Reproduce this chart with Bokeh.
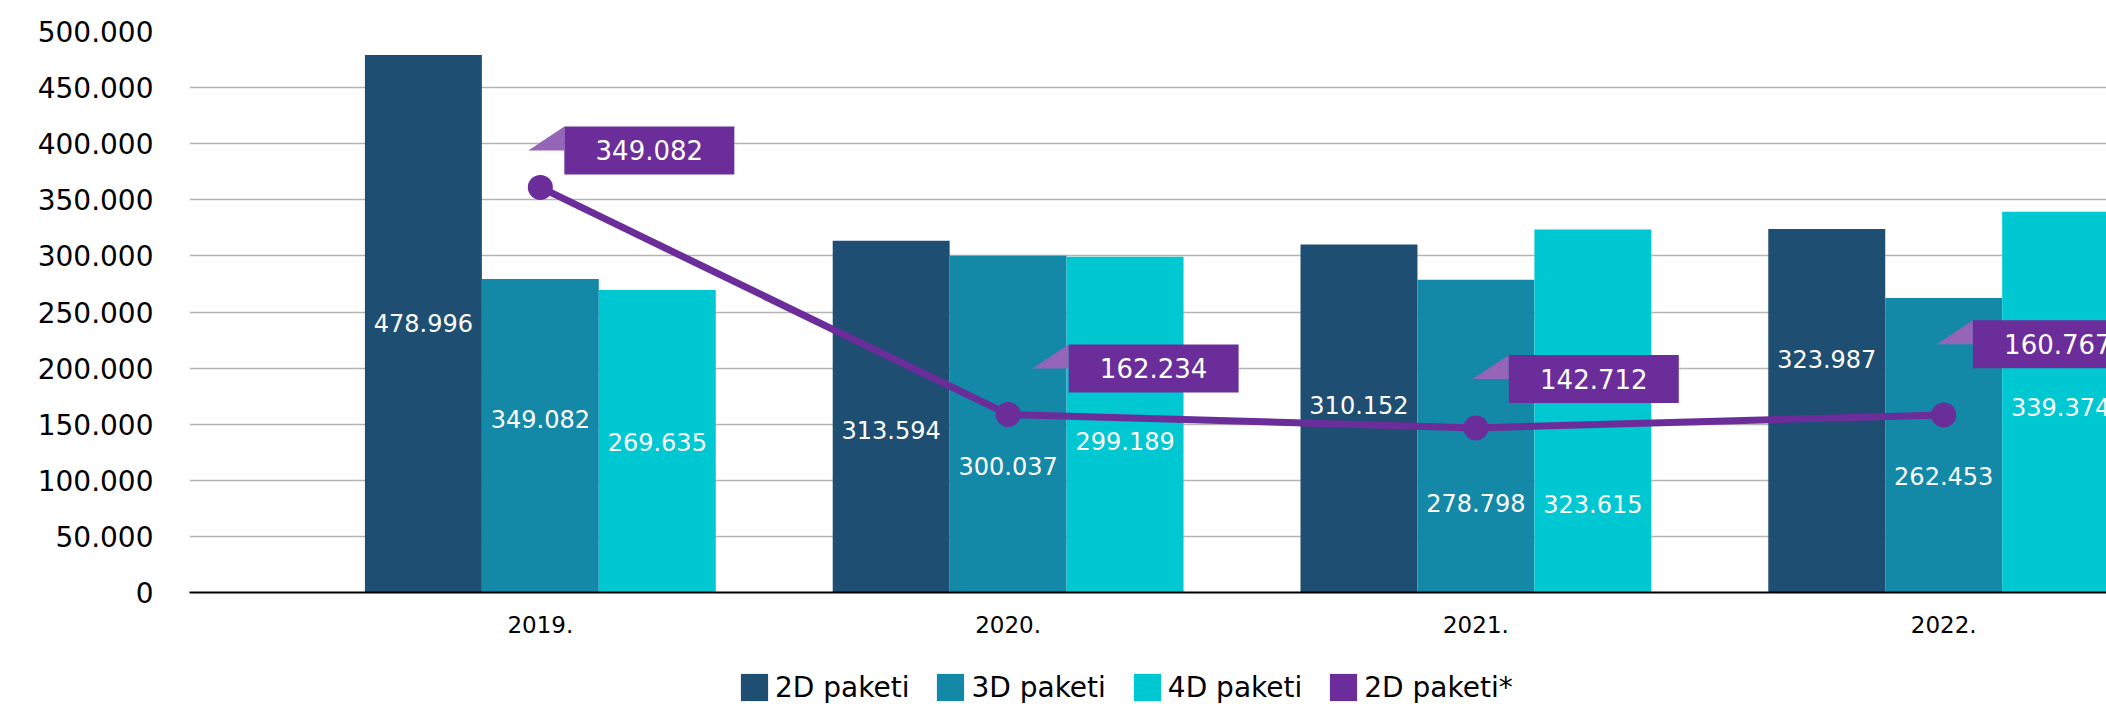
import numpy as np
from bokeh.plotting import figure
from bokeh.layouts import column
from bokeh.models import ColumnDataSource, FixedTicker, Legend, LegendItem, Range1d
from bokeh.transform import dodge
from bokeh.core.properties import value
from bokeh.embed import file_html
from bokeh.resources import INLINE

# ---------------- data ----------------
years = ["2019.", "2020.", "2021.", "2022."]
series_names = ["2D paketi", "3D paketi", "4D paketi", "2D paketi*"]

pkg_2d = [478996, 313594, 310152, 323987]
pkg_3d = [279500, 300037, 278798, 262453]
pkg_4d = [269635, 299189, 323615, 339374]
pkg_2d_star = [361000, 158700, 146700, 158300]

label_2d = ["478.996", "313.594", "310.152", "323.987"]
label_3d = ["349.082", "300.037", "278.798", "262.453"]
label_4d = ["269.635", "299.189", "323.615", "339.374"]
label_2d_star = ["349.082", "162.234", "142.712", "160.767"]

y_ticks = [0, 50000, 100000, 150000, 200000, 250000, 300000, 350000, 400000, 450000, 500000]
y_tick_labels = ["0", "50.000", "100.000", "150.000", "200.000", "250.000",
                 "300.000", "350.000", "400.000", "450.000", "500.000"]

# ---------------- annotation placement (value units) ----------------
lab_y_2d = [240400, 144700, 167400, 208000]
lab_y_3d = [154300, 112400, 80100, 104000]
lab_y_4d = [134000, 135100, 79000, 165000]
callout_dx = [0.233, 0.311, 0.252, 0.244]
callout_y = [394000, 199700, 190200, 221300]

# ---------------- style ----------------
FONT = "DejaVu Sans"
C2D = "#1f4e73"
C3D = "#1389a7"
C4D = "#00c8d3"
PURPLE = "#6b2d9a"
LIGHT_PURPLE = "#9565b8"

X0, X1 = -0.75, 3.348
Y0, Y1 = 0, 500000
FW, FH = 1917, 561

xi = np.arange(len(years))
src = ColumnDataSource(dict(
    x=xi, d2=pkg_2d, d3=pkg_3d, d4=pkg_4d, star=pkg_2d_star,
    l2=label_2d, l3=label_3d, l4=label_4d, ls=label_2d_star,
    y2=lab_y_2d, y3=lab_y_3d, y4=lab_y_4d,
))

plot = figure(width=2106, height=640,
              x_range=Range1d(X0, X1), y_range=Range1d(Y0, Y1),
              output_backend="svg", toolbar_location=None,
              min_border_left=189, min_border_top=31, min_border_right=0, min_border_bottom=48,
              outline_line_color=None, background_fill_color="white", border_fill_color="white")

W = 0.25
plot.vbar(x=dodge("x", -W, range=plot.x_range), top="d2", width=W, source=src, fill_color=C2D, line_color=None)
plot.vbar(x=dodge("x", 0, range=plot.x_range), top="d3", width=W, source=src, fill_color=C3D, line_color=None)
plot.vbar(x=dodge("x", W, range=plot.x_range), top="d4", width=W, source=src, fill_color=C4D, line_color=None)

plot.line(x="x", y="star", source=src, line_color=PURPLE, line_width=7)
plot.scatter(x="x", y="star", source=src, size=25, fill_color=PURPLE, line_color=None)

for col, ycol, off in (("l2", "y2", -W), ("l3", "y3", 0), ("l4", "y4", W)):
    plot.text(x=dodge("x", off, range=plot.x_range), y=ycol, text=col, source=src,
              text_color="white", text_font=value(FONT), text_font_size=value("24px"),
              text_align="center", text_baseline="middle")

# callouts
ppx = (X1 - X0) / FW
ppy = (Y1 - Y0) / FH
cx = [i + d for i, d in zip(xi, callout_dx)]
tri_xs, tri_ys = [], []
for x_, y_ in zip(cx, callout_y):
    left = x_ - 85 * ppx
    top = y_ + 24 * ppy
    tri_xs.append([left, left, left - 36 * ppx])
    tri_ys.append([top, y_, y_])
plot.patches(xs=tri_xs, ys=tri_ys, fill_color=LIGHT_PURPLE, line_color=None)
csrc = ColumnDataSource(dict(x=cx, y=callout_y, t=label_2d_star))
plot.rect(x="x", y="y", width=170, height=48, width_units="screen", height_units="screen",
          source=csrc, fill_color=PURPLE, line_color=None)
plot.text(x="x", y="y", text="t", source=csrc, text_color="white", text_font=value(FONT),
          text_font_size=value("26px"), text_align="center", text_baseline="middle")

# axes
plot.xaxis.ticker = FixedTicker(ticks=list(xi))
plot.xaxis.major_label_overrides = {int(i): y for i, y in zip(xi, years)}
plot.xaxis.axis_line_color = "black"
plot.xaxis.axis_line_width = 2
plot.xaxis.major_tick_line_color = None
plot.xaxis.minor_tick_line_color = None
plot.xaxis.major_label_text_font = FONT
plot.xaxis.major_label_text_font_size = "23px"
plot.xaxis.major_label_text_color = "black"
plot.xaxis.major_label_standoff = 17

plot.yaxis.ticker = FixedTicker(ticks=y_ticks)
plot.yaxis.major_label_overrides = {t: l for t, l in zip(y_ticks, y_tick_labels)}
plot.yaxis.axis_line_color = None
plot.yaxis.major_tick_line_color = None
plot.yaxis.minor_tick_line_color = None
plot.yaxis.major_label_text_font = FONT
plot.yaxis.major_label_text_font_size = "28px"
plot.yaxis.major_label_text_color = "black"
plot.yaxis.major_label_standoff = 30

plot.xgrid.grid_line_color = None
plot.ygrid.grid_line_color = "#b3b3b3"
plot.ygrid.grid_line_width = 1.5

# ---------------- legend strip (same series, swatches only) ----------------
leg = figure(width=2106, height=64, x_range=Range1d(-20, -19), y_range=Range1d(-20, -19),
             x_axis_location=None, y_axis_location=None, toolbar_location=None,
             output_backend="svg", outline_line_color=None, min_border=0,
             background_fill_color="white", border_fill_color="white")
leg.grid.visible = False
sw = [leg.vbar(x="x", top=col, width=W, source=src, fill_color=c, line_color=None)
      for col, c in (("d2", C2D), ("d3", C3D), ("d4", C4D), ("star", PURPLE))]
legend = Legend(items=[LegendItem(label=n, renderers=[r]) for n, r in zip(series_names, sw)],
                orientation="horizontal", location=(548, 0),
                glyph_width=34, glyph_height=34, label_standoff=4, spacing=24,
                padding=0, margin=0, border_line_color=None, background_fill_alpha=0,
                label_text_font=FONT, label_text_font_size="28px", label_text_color="black")
leg.add_layout(legend, "center")

p = column(plot, leg, spacing=0)
open("out.html", "w").write(file_html(p, INLINE))
